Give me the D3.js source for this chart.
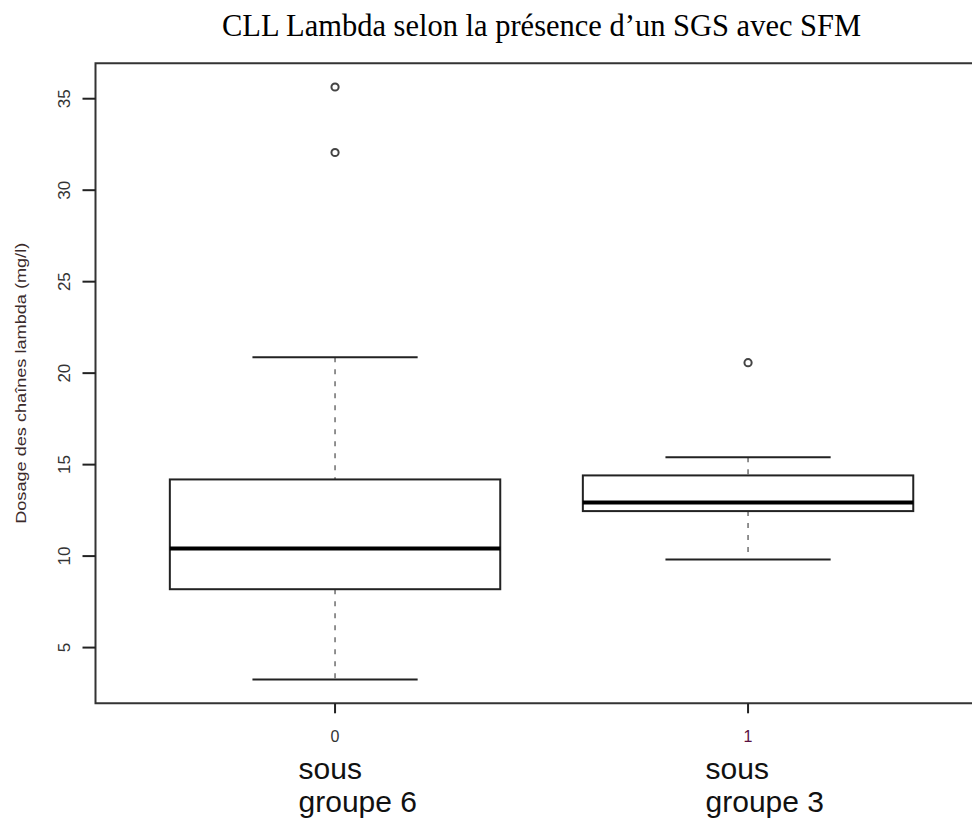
<!DOCTYPE html>
<html>
<head>
<meta charset="utf-8">
<script src="https://cdn.jsdelivr.net/npm/d3@7"></script>
<style>
  html, body { margin: 0; padding: 0; background: #fff; }
  svg { display: block; }
</style>
</head>
<body>
<svg id="chart" width="972" height="821"></svg>
<script>
// Five-number summaries per group (mg/l)
const groups = ["0", "1"];
const groupNames = [["sous", "groupe 6"], ["sous", "groupe 3"]];
const lowerWhisker = [3.25, 9.81];
const q1 = [8.19, 12.46];
const median = [10.42, 12.93];
const q3 = [14.19, 14.41];
const upperWhisker = [20.87, 15.40];
const outliers = [[35.64, 32.06], [20.57]];
const yTicks = [5, 10, 15, 20, 25, 30, 35];

const titleText = "CLL Lambda selon la présence d\u2019un SGS avec SFM";
const yLabelText = "Dosage des chaînes lambda (mg/l)";

const svg = d3.select("#chart");

// Plot region (right side of frame runs past the page edge)
const plot = { left: 95.5, top: 63.3, bottom: 703.3, right: 987.6 };

// y domain: data range padded by 4% on each side
const allVals = lowerWhisker.concat(upperWhisker, outliers.flat());
const [lo, hi] = d3.extent(allVals);
const pad = (hi - lo) * 0.04;
const y = d3.scaleLinear().domain([lo - pad, hi + pad]).range([plot.bottom, plot.top]);

// x positions 1..n with the same 4% padding on [0.5, n + 0.5]
const n = groups.length;
const xPad = n * 0.04;
const x = d3.scaleLinear().domain([0.5 - xPad, n + 0.5 + xPad]).range([plot.left, plot.right]);
const unit = x(1) - x(0);
const boxHalf = 0.4 * unit;
const stapleHalf = 0.2 * unit;

// Title, centred over the plot region
svg.append("text")
  .attr("x", (plot.left + plot.right) / 2).attr("y", 36)
  .attr("text-anchor", "middle")
  .attr("font-family", "'Liberation Serif', 'Times New Roman', serif")
  .attr("font-size", 30.5)
  .attr("fill", "#000")
  .text(titleText);

// Frame (left, top, bottom)
svg.append("path")
  .attr("d", `M${plot.right},${plot.top}H${plot.left}V${plot.bottom}H${plot.right}`)
  .attr("fill", "none").attr("stroke", "#333").attr("stroke-width", 2);

// Y axis ticks + rotated labels
const yAxis = svg.append("g");
yAxis.selectAll("line").data(yTicks).join("line")
  .attr("x1", plot.left - 13).attr("x2", plot.left)
  .attr("y1", d => y(d)).attr("y2", d => y(d))
  .attr("stroke", "#222").attr("stroke-width", 2);
yAxis.selectAll("text").data(yTicks).join("text")
  .attr("transform", d => `translate(70,${y(d)}) rotate(-90)`)
  .attr("text-anchor", "middle")
  .attr("font-family", "Arial, 'Liberation Sans', sans-serif")
  .attr("font-size", 17)
  .attr("fill", "#333")
  .text(d => d);

// Y axis title
svg.append("text")
  .attr("transform", `translate(25.5,${(plot.top + plot.bottom) / 2}) rotate(-90)`)
  .attr("text-anchor", "middle")
  .attr("font-family", "Arial, 'Liberation Sans', sans-serif")
  .attr("font-size", 15.5)
  .attr("textLength", 281)
  .attr("lengthAdjust", "spacingAndGlyphs")
  .attr("fill", "#3a2a2a")
  .text(yLabelText);

// X ticks and labels
const xAxis = svg.append("g");
groups.forEach((g, i) => {
  const cx = x(i + 1);
  xAxis.append("line")
    .attr("x1", cx).attr("x2", cx)
    .attr("y1", plot.bottom).attr("y2", plot.bottom + 10)
    .attr("stroke", "#222").attr("stroke-width", 2);
  xAxis.append("text")
    .attr("x", cx).attr("y", 742)
    .attr("text-anchor", "middle")
    .attr("font-family", "Arial, 'Liberation Sans', sans-serif")
    .attr("font-size", 16)
    .attr("fill", i === 1 ? "#5a1040" : "#333")
    .text(g);
  const nameText = xAxis.append("text")
    .attr("font-family", "Arial, 'Liberation Sans', sans-serif")
    .attr("font-size", 30)
    .attr("fill", "#111");
  groupNames[i].forEach((line, k) => {
    nameText.append("tspan")
      .attr("x", cx - (i === 0 ? 36.5 : 42.5))
      .attr("y", 779 + k * 33)
      .text(line);
  });
});

// Boxes
const boxes = svg.append("g");
groups.forEach((g, i) => {
  const cx = x(i + 1);
  const gEl = boxes.append("g");
  // dashed whiskers
  gEl.append("line")
    .attr("x1", cx).attr("x2", cx)
    .attr("y1", y(upperWhisker[i])).attr("y2", y(q3[i]))
    .attr("stroke", "#777").attr("stroke-width", 1.6)
    .attr("stroke-dasharray", "5,7");
  gEl.append("line")
    .attr("x1", cx).attr("x2", cx)
    .attr("y1", y(q1[i])).attr("y2", y(lowerWhisker[i]))
    .attr("stroke", "#777").attr("stroke-width", 1.6)
    .attr("stroke-dasharray", "5,7");
  // staples
  [upperWhisker[i], lowerWhisker[i]].forEach(v => {
    gEl.append("line")
      .attr("x1", cx - stapleHalf).attr("x2", cx + stapleHalf)
      .attr("y1", y(v)).attr("y2", y(v))
      .attr("stroke", "#222").attr("stroke-width", 2);
  });
  // box
  gEl.append("rect")
    .attr("x", cx - boxHalf).attr("width", 2 * boxHalf)
    .attr("y", y(q3[i])).attr("height", y(q1[i]) - y(q3[i]))
    .attr("fill", "#fff").attr("stroke", "#222").attr("stroke-width", 2);
  // median
  gEl.append("line")
    .attr("x1", cx - boxHalf).attr("x2", cx + boxHalf)
    .attr("y1", y(median[i])).attr("y2", y(median[i]))
    .attr("stroke", "#000").attr("stroke-width", 4);
  // outliers
  gEl.selectAll("circle").data(outliers[i]).join("circle")
    .attr("cx", cx).attr("cy", d => y(d))
    .attr("r", 3.6)
    .attr("fill", "none").attr("stroke", "#444").attr("stroke-width", 2);
});
</script>
</body>
</html>
